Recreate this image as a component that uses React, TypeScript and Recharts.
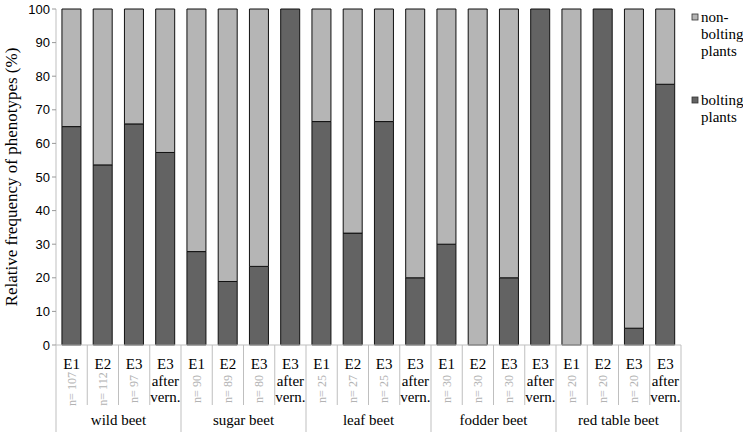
import { BarChart, Bar, XAxis, YAxis, Customized } from "recharts"

const groups = ["wild beet", "sugar beet", "leaf beet", "fodder beet", "red table beet"]
const envs = ["E1", "E2", "E3", "E3 after vern."]
const bolting = [
  65, 53.6, 65.8, 57.3,
  27.8, 18.9, 23.4, 100,
  66.5, 33.3, 66.5, 20,
  30, 0, 20, 100,
  0, 100, 5, 77.6,
]
const sampleSizes = [
  "107", "112", "97", "",
  "90", "89", "80", "",
  "25", "27", "25", "",
  "30", "30", "30", "",
  "20", "20", "20", "",
]
const yTicks = [0, 10, 20, 30, 40, 50, 60, 70, 80, 90, 100]

const data = bolting.map((b, i) => ({
  id: i,
  group: groups[Math.floor(i / 4)],
  env: envs[i % 4],
  n: sampleSizes[i],
  bolting: b,
  nonBolting: Math.round((100 - b) * 10) / 10,
}))

const W = 743
const H = 435
const M = { top: 9, right: 62, bottom: 0, left: 0 }
const X_H = 90
const Y_W = 56
const BAND = (W - M.left - M.right - Y_W) / data.length

const serif = "Liberation Serif"
const sans = "Liberation Sans"
const DARK = "#636363"
const LIGHT = "#b5b5b5"

function CatTick(props: any) {
  const { x, y, payload } = props
  const d = data[payload.value]
  if (!d) return null
  const left = x - BAND / 2
  const groupStart = d.id % 4 === 0
  const isLast = d.id === data.length - 1
  const after = d.env.startsWith("E3 after")
  return (
    <g fontFamily={serif} fontSize={15}>
      <line x1={left} y1={y - 8} x2={left} y2={groupStart ? y + 79 : y + 52} stroke="#bfbfbf" />
      {isLast && <line x1={left + BAND} y1={y - 8} x2={left + BAND} y2={y + 79} stroke="#bfbfbf" />}
      <text x={x} y={y + 16} textAnchor="middle" fill="#000">
        E{d.env.charAt(1)}
      </text>
      {after ? (
        <text textAnchor="middle" fill="#000">
          <tspan x={x} y={y + 33}>after</tspan>
          <tspan x={x} y={y + 49}>vern.</tspan>
        </text>
      ) : (
        <text
          x={x}
          y={y + 36}
          transform={`rotate(-90 ${x} ${y + 36})`}
          textAnchor="middle"
          dominantBaseline="central"
          fontSize={12}
          fill="#b3b3b3"
        >
          {"n= " + d.n}
        </text>
      )}
      {d.id % 4 === 1 && (
        <text x={left + BAND} y={y + 72} textAnchor="middle" fill="#000">
          {d.group}
        </text>
      )}
    </g>
  )
}

function Legend() {
  const lx = 692
  return (
    <g fontFamily={serif} fontSize={15} fill="#000">
      <rect x={lx} y={14} width={6} height={6} fill={LIGHT} stroke="#333" strokeWidth={0.8} />
      <text x={lx + 9} y={22}>non-</text>
      <text x={lx + 9} y={39}>bolting</text>
      <text x={lx + 9} y={56}>plants</text>
      <rect x={lx} y={97} width={6} height={6} fill={DARK} stroke="#333" strokeWidth={0.8} />
      <text x={lx + 9} y={105}>bolting</text>
      <text x={lx + 9} y={122}>plants</text>
    </g>
  )
}

export default function App() {
  return (
    <div style={{ position: "absolute", left: 0, top: 0, background: "#fff", fontFamily: serif }}>
      <BarChart data={data} width={W} height={H} margin={M} barCategoryGap="19%">
        <XAxis
          dataKey="id"
          interval={0}
          tick={<CatTick />}
          tickLine={false}
          axisLine={{ stroke: "#bfbfbf" }}
          height={X_H}
        />
        <YAxis
          domain={[0, 100]}
          ticks={yTicks}
          interval={0}
          width={Y_W}
          tickSize={4}
          tickLine={{ stroke: "#999" }}
          axisLine={{ stroke: "#bfbfbf" }}
          tick={{ fontFamily: sans, fontSize: 13, fill: "#000" }}
          label={{
            value: "Relative frequency  of phenotypes  (%)",
            angle: -90,
            position: "insideLeft",
            dx: 6,
            style: { fontFamily: serif, fontSize: 17, fill: "#000", textAnchor: "middle", whiteSpace: "pre" },
          }}
        />
        <Bar dataKey="bolting" stackId="a" fill={DARK} stroke="#111" strokeWidth={1} isAnimationActive={false} />
        <Bar dataKey="nonBolting" stackId="a" fill={LIGHT} stroke="#111" strokeWidth={1} isAnimationActive={false} />
        <Customized component={Legend} />
      </BarChart>
    </div>
  )
}
